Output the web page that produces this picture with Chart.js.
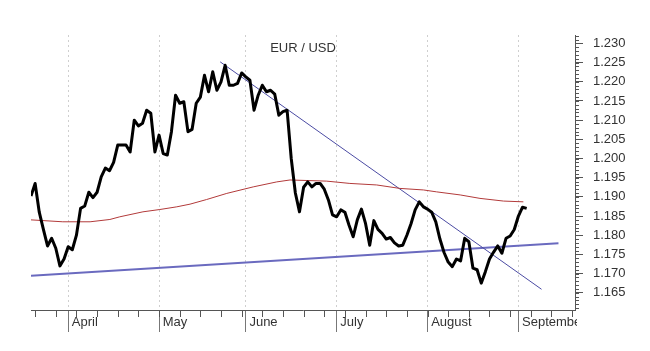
<!DOCTYPE html>
<html>
<head>
<meta charset="utf-8">
<script src="https://cdn.jsdelivr.net/npm/chart.js"></script>
<style>
  html, body { margin: 0; padding: 0; background: #fff; }
  #wrap { width: 650px; height: 351px; }
</style>
</head>
<body>
<div id="wrap"><canvas id="fxChart"></canvas></div>
<script>
// EUR/USD daily close, one value per trading day (day 0 = 19 March)
const closes = [
  1.1902, 1.1935, 1.1860, 1.1815, 1.1772, 1.1792, 1.1766, 1.1720, 1.1738, 1.1770,
  1.1762, 1.1800, 1.1870, 1.1876, 1.1912, 1.1898, 1.1912, 1.1952, 1.1975, 1.1968,
  1.1990, 1.2035, 1.2035, 1.2035, 1.2017, 1.2100, 1.2085, 1.2092, 1.2126, 1.2118,
  1.2017, 1.2061, 1.2013, 1.2009, 1.2070, 1.2165, 1.2144, 1.2148, 1.2070, 1.2076,
  1.2144, 1.2160, 1.2217, 1.2174, 1.2226, 1.2178, 1.2200, 1.2243, 1.2191, 1.2191,
  1.2196, 1.2223, 1.2213, 1.2204, 1.2126, 1.2165, 1.2191, 1.2174, 1.2178, 1.2168,
  1.2113, 1.2122, 1.2126, 1.2000, 1.1910, 1.1861, 1.1925, 1.1939, 1.1926, 1.1935,
  1.1935, 1.1920, 1.1892, 1.1853, 1.1848, 1.1866, 1.1860, 1.1826, 1.1796, 1.1840,
  1.1868, 1.1830, 1.1774, 1.1838, 1.1815, 1.1805, 1.1790, 1.1794, 1.1780, 1.1772,
  1.1774, 1.1800, 1.1830, 1.1866, 1.1887, 1.1874, 1.1868, 1.1860, 1.1835, 1.1790,
  1.1755, 1.1730, 1.1718, 1.1738, 1.1733, 1.1792, 1.1783, 1.1714, 1.1710, 1.1675,
  1.1705, 1.1738, 1.1756, 1.1772, 1.1753, 1.1792, 1.1798, 1.1815, 1.1850, 1.1873,
  1.1870
];

// moving average (red), read at these days
const maDays   = [0, 7.7, 14.3, 19.1, 21.5, 27.1, 31.2, 35.3, 38.5, 42.5, 47.4, 53.8,
                  59.5, 62.7, 71.6, 77.2, 83.7, 89.3, 95, 98.2, 103.9, 108.7, 114.4, 119.2];
const maValues = [1.1840, 1.1835, 1.1835, 1.1841, 1.1848, 1.1861, 1.1867, 1.1874, 1.1881,
                  1.1893, 1.1909, 1.1926, 1.1939, 1.1944, 1.1941, 1.1935, 1.1931, 1.1922,
                  1.1918, 1.1913, 1.1905, 1.1896, 1.1889, 1.1887];

// trend lines
const downTrendDays   = [45.8, 123.6];
const downTrendValues = [1.2252, 1.1659];
const upTrendDays     = [0, 127.7];
const upTrendValues   = [1.1694, 1.1779];

// axes
const monthDays   = [9, 31, 52, 74, 96, 118];
const monthLabels = ['April', 'May', 'June', 'July', 'August', 'September'];
const weekDays    = [1, 6, 11, 16, 21, 26, 31, 36, 41, 46, 51, 56, 61, 66, 71, 76,
                     81, 86, 91, 96, 101, 106, 111, 116, 121, 126, 131];
const priceTicks  = [1.165, 1.170, 1.175, 1.180, 1.185, 1.190, 1.195, 1.200,
                     1.205, 1.210, 1.215, 1.220, 1.225, 1.230];

const toPoints = (xs, ys) => xs.map((x, i) => ({ x: x, y: ys[i] }));

// title, small ticks and clipping of the last month label
const extras = {
  id: 'extras',
  afterDraw(chart) {
    const ctx = chart.ctx;
    const area = chart.chartArea;
    const xs = chart.scales.x, ys = chart.scales.y;
    ctx.save();
    ctx.strokeStyle = '#555';
    ctx.lineWidth = 1;
    ctx.beginPath();
    weekDays.forEach(d => {
      const px = Math.round(xs.getPixelForValue(d)) + 0.5;
      ctx.moveTo(px, area.bottom);
      ctx.lineTo(px, area.bottom + 7);
    });
    for (let k = 1161; k <= 1232; k++) {
      const py = Math.round(ys.getPixelForValue(k / 1000)) + 0.5;
      ctx.moveTo(area.right, py);
      ctx.lineTo(area.right + 4, py);
    }
    ctx.stroke();

    ctx.fillStyle = '#fff';
    ctx.fillRect(area.right + 2, area.bottom + 4, 80, 30);

    ctx.fillStyle = '#333';
    ctx.font = '13px "Liberation Sans", Arial, sans-serif';
    ctx.textAlign = 'center';
    ctx.textBaseline = 'middle';
    ctx.fillText('EUR / USD', (area.left + area.right) / 2, 48);
    ctx.restore();
  }
};

Chart.defaults.font.family = '"Liberation Sans", Arial, sans-serif';
Chart.defaults.font.size = 13;
Chart.defaults.color = '#333';

new Chart(document.getElementById('fxChart'), {
  type: 'line',
  data: {
    datasets: [
      {
        label: 'EUR/USD',
        data: closes.map((v, i) => ({ x: i, y: v })),
        borderColor: '#000',
        borderWidth: 3,
        borderJoinStyle: 'round',
        pointRadius: 0,
        order: 0
      },
      {
        label: 'MA',
        data: toPoints(maDays, maValues),
        borderColor: '#b23a3a',
        borderWidth: 1,
        pointRadius: 0,
        order: 1
      },
      {
        label: 'down',
        data: toPoints(downTrendDays, downTrendValues),
        borderColor: '#4b4ba3',
        borderWidth: 1,
        pointRadius: 0,
        order: 1
      },
      {
        label: 'up',
        data: toPoints(upTrendDays, upTrendValues),
        borderColor: '#6a6abf',
        borderWidth: 2,
        pointRadius: 0,
        order: 1
      }
    ]
  },
  options: {
    responsive: true,
    maintainAspectRatio: false,
    animation: false,
    layout: { padding: { left: 31, top: 35, right: 0, bottom: 0 } },
    plugins: {
      legend: { display: false },
      tooltip: { enabled: false }
    },
    scales: {
      x: {
        type: 'linear',
        min: 0,
        max: 131.7,
        afterBuildTicks: scale => { scale.ticks = monthDays.map(v => ({ value: v })); },
        afterFit: scale => { scale.height = 41; },
        ticks: {
          autoSkip: false,
          maxRotation: 0,
          align: 'start',
          padding: -17,
          callback: v => ' ' + monthLabels[monthDays.indexOf(v)]
        },
        grid: {
          color: '#cfcfcf',
          tickColor: '#777',
          tickLength: 22,
          tickBorderDash: []
        },
        border: { color: '#555', dash: [2, 3] }
      },
      y: {
        position: 'right',
        min: 1.1605,
        max: 1.2322,
        afterBuildTicks: scale => { scale.ticks = priceTicks.map(v => ({ value: v })); },
        afterFit: scale => { scale.width = 75; },
        ticks: {
          padding: 10,
          callback: v => v.toFixed(3)
        },
        grid: {
          drawOnChartArea: false,
          tickColor: '#555',
          tickLength: 8
        },
        border: { color: '#555' }
      }
    }
  },
  plugins: [extras]
});
</script>
</body>
</html>
